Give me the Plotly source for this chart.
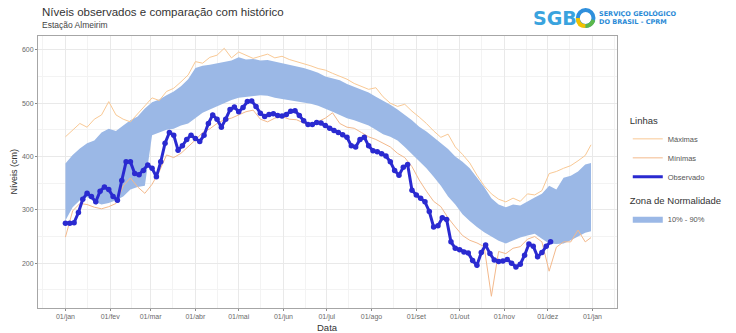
import pandas as pd
import plotly.graph_objects as go

# ---------------- data ----------------
base = pd.Timestamp("2023-01-01")

# historical envelope, sampled every 5 days (last point on 31/dez)
hist_days = list(range(0, 361, 5)) + [364]

band_upper = [387, 403, 415, 425, 430, 445, 452, 448, 458, 468,
              475, 490, 502, 507, 515, 522, 532, 545, 566, 570,
              572, 575, 577, 580, 586, 582, 583, 580, 581, 578,
              575, 573, 570, 566, 562, 557, 550, 547, 543, 536,
              531, 526, 520, 512, 505, 497, 488, 478, 468, 456,
              447, 436, 425, 414, 400, 390, 378, 360, 343, 322,
              310, 305, 310, 308, 316, 323, 330, 345, 338, 360,
              364, 372, 385, 388]

band_lower = [280, 305, 318, 324, 315, 310, 313, 318, 325, 338,
              343, 345, 440, 445, 450, 452, 458, 462, 472, 482,
              488, 494, 500, 506, 510, 512, 514, 515, 514, 510,
              508, 506, 503, 501, 499, 495, 490, 484, 478, 472,
              468, 463, 458, 450, 442, 437, 430, 418, 405, 392,
              378, 362, 345, 325, 310, 292, 279, 268, 258, 250,
              242, 237, 243, 248, 252, 255, 246, 237, 236, 237,
              243, 250, 257, 260]

maximas = [437, 450, 462, 455, 470, 478, 503, 478, 470, 465,
           481, 495, 510, 505, 522, 528, 540, 553, 578, 575,
           586, 590, 603, 585, 596, 590, 584, 588, 592, 585,
           588, 582, 578, 575, 570, 565, 562, 556, 550, 545,
           537, 532, 526, 529, 512, 500, 494, 498, 485, 474,
           462, 448, 436, 442, 418, 404, 388, 365, 345, 330,
           320, 315, 322, 316, 330, 328, 336, 368, 372, 378,
           383, 392, 402, 422]

minimas = [249, 298, 312, 310, 305, 302, 306, 312, 345, 360,
           343, 331, 348, 372, 403, 398, 406, 418, 431, 445,
           452, 462, 469, 472, 478, 484, 487, 470, 465, 472,
           475, 470, 469, 463, 459, 465, 472, 482, 462, 455,
           453, 445, 437, 432, 425, 418, 406, 398, 381, 356,
           335, 316, 306, 285, 268, 252, 243, 238, 231, 138,
           222, 218, 228, 231, 245, 250, 240, 185, 230, 240,
           240, 262, 240, 248]

# observed daily levels, sampled every 3 days
obs_days = list(range(0, 337, 3))
observado = [275, 275, 276, 295, 320, 331, 325, 315, 335, 343,
             338, 325, 318, 355, 390, 390, 368, 366, 374, 384,
             378, 362, 390, 425, 445, 440, 412, 420, 432, 440,
             434, 428, 440, 462, 478, 470, 455, 470, 488, 493,
             484, 492, 503, 504, 494, 481, 475, 479, 480, 477,
             476, 479, 485, 486, 477, 467, 460, 460, 464, 463,
             458, 453, 449, 445, 441, 436, 420, 418, 432, 436,
             420, 411, 409, 405, 401, 390, 374, 365, 380, 385,
             337, 328, 322, 315, 297, 268, 270, 285, 282, 240,
             228, 225, 221, 219, 205, 196, 220, 234, 218, 206,
             203, 204, 207, 200, 193, 198, 215, 236, 232, 212,
             220, 232, 240]

month_ticks = ["2023-01-01", "2023-02-01", "2023-03-01", "2023-04-01",
               "2023-05-01", "2023-06-01", "2023-07-01", "2023-08-01",
               "2023-09-01", "2023-10-01", "2023-11-01", "2023-12-01",
               "2024-01-01"]
month_labels = ["01/jan", "01/fev", "01/mar", "01/abr", "01/mai", "01/jun",
                "01/jul", "01/ago", "01/set", "01/out", "01/nov", "01/dez",
                "01/jan"]
y_ticks = [200, 300, 400, 500, 600]

hist_dates = [base + pd.Timedelta(days=d) for d in hist_days]
obs_dates = [base + pd.Timedelta(days=d) for d in obs_days]

# ---------------- layout helpers (pixel -> paper) ----------------
W, H = 736, 333
L, R, T, B = 38, 629, 36, 308


def px(x):
    return (x - L) / (R - L)


def py(y):
    return (B - y) / (B - T)


FONT = "Liberation Sans, Arial, sans-serif"
BAND = "#9bb8e6"
OBS = "#2a2ad0"
MAXC = "#f9c995"
MINC = "#f3b98c"

fig = go.Figure()

# 10% - 90% band
fig.add_trace(go.Scatter(x=hist_dates, y=band_lower, mode="lines",
                         line=dict(width=0, color=BAND), showlegend=False,
                         hoverinfo="skip"))
fig.add_trace(go.Scatter(x=hist_dates, y=band_upper, mode="lines",
                         line=dict(width=0, color=BAND), fill="tonexty",
                         fillcolor=BAND, name="10% - 90%", legend="legend2"))

# historical extremes
fig.add_trace(go.Scatter(x=hist_dates, y=maximas, mode="lines",
                         line=dict(width=1, color=MAXC), name="Máximas",
                         legend="legend"))
fig.add_trace(go.Scatter(x=hist_dates, y=minimas, mode="lines",
                         line=dict(width=1, color=MINC), name="Mínimas",
                         legend="legend"))

# observed series: line plus point markers
fig.add_trace(go.Scatter(x=obs_dates, y=observado, mode="lines",
                         line=dict(width=3, color=OBS), name="Observado",
                         legend="legend"))
fig.add_trace(go.Scatter(x=obs_dates, y=observado, mode="markers",
                         marker=dict(size=5.5, color=OBS), showlegend=False,
                         hoverinfo="skip"))

axis_common = dict(
    showgrid=True, gridcolor="#e9e9e9", gridwidth=1,
    showline=True, linecolor="#a6a6a6", linewidth=1, mirror=True,
    ticks="outside", ticklen=2, tickcolor="#8a8a8a",
    tickfont=dict(family=FONT, size=7, color="#6a6a6a"),
    zeroline=False,
)

fig.update_layout(
    width=W, height=H,
    margin=dict(l=L, r=W - R, t=T, b=H - B),
    paper_bgcolor="white", plot_bgcolor="white",
    font=dict(family=FONT),
    xaxis=dict(type="date", range=["2022-12-13", "2024-01-18"],
               tickvals=month_ticks, ticktext=month_labels,
               minor=dict(tick0="2022-12-16", dtick="M1", showgrid=True,
                          gridcolor="#f3f3f3", ticks=""),
               **axis_common),
    yaxis=dict(range=[116, 626], tickvals=y_ticks,
               minor=dict(tick0=150, dtick=50, showgrid=True,
                          gridcolor="#f3f3f3", ticks=""),
               **axis_common),
    legend=dict(x=px(640), y=py(112), xanchor="left", yanchor="top",
                title=dict(text="Linhas",
                           font=dict(family=FONT, size=9.5, color="#333")),
                font=dict(family=FONT, size=7.5, color="#555"),
                itemwidth=30, bgcolor="rgba(0,0,0,0)", tracegroupgap=0),
    legend2=dict(x=px(640), y=py(192), xanchor="left", yanchor="top",
                 title=dict(text="Zona de Normalidade",
                            font=dict(family=FONT, size=9.5, color="#333")),
                 font=dict(family=FONT, size=7.5, color="#555"),
                 itemwidth=30, bgcolor="rgba(0,0,0,0)"),
    showlegend=True,
)

annotations = [
    dict(text="Níveis observados e comparação com histórico",
         x=px(40), y=py(12), xanchor="left", yanchor="middle",
         font=dict(family=FONT, size=11.5, color="#333")),
    dict(text="Estação Almeirim", x=px(40), y=py(25), xanchor="left",
         yanchor="middle", font=dict(family=FONT, size=8.5, color="#444")),
    dict(text="Data", x=px(333), y=py(327.5), xanchor="center",
         yanchor="middle", font=dict(family=FONT, size=9.5, color="#333")),
    dict(text="Níveis (cm)", x=px(13), y=py(172), xanchor="center",
         yanchor="middle", textangle=-90,
         font=dict(family=FONT, size=9, color="#333")),
    # logo wordmark
    dict(text="<b>SGB</b>", x=px(541), y=py(18), xanchor="left",
         yanchor="middle",
         font=dict(family="DejaVu Sans, sans-serif", size=19, color="#3aa3de")),
    dict(text="<b>SERVIÇO GEOLÓGICO</b>", x=px(609), y=py(13),
         xanchor="left", yanchor="middle",
         font=dict(family="DejaVu Sans, sans-serif", size=6.5, color="#2a8ad6")),
    dict(text="<b>DO BRASIL - CPRM</b>", x=px(609), y=py(22),
         xanchor="left", yanchor="middle",
         font=dict(family="DejaVu Sans, sans-serif", size=6.5, color="#2a8ad6")),
]
for a in annotations:
    a.update(xref="paper", yref="paper", showarrow=False)
fig.update_layout(annotations=annotations)

# logo "O": blue ring with a yellow/green segment
cx, cy, r = 597, 18, 8
fig.add_shape(type="circle", xref="paper", yref="paper",
              x0=px(cx - r), x1=px(cx + r), y0=py(cy + r), y1=py(cy - r),
              line=dict(color="#2f8fdc", width=4))
fig.add_shape(type="path", xref="paper", yref="paper",
              path=(f"M {px(cx - r)} {py(cy)} "
                    f"Q {px(cx - r)} {py(cy + r)} {px(cx)} {py(cy + r)}"),
              line=dict(color="#f2c200", width=4))
fig.add_shape(type="path", xref="paper", yref="paper",
              path=(f"M {px(cx)} {py(cy + r)} "
                    f"Q {px(cx + r * 0.7)} {py(cy + r)} {px(cx + r)} {py(cy + 2)}"),
              line=dict(color="#5cb84a", width=4))

fig.write_html("out.html")
